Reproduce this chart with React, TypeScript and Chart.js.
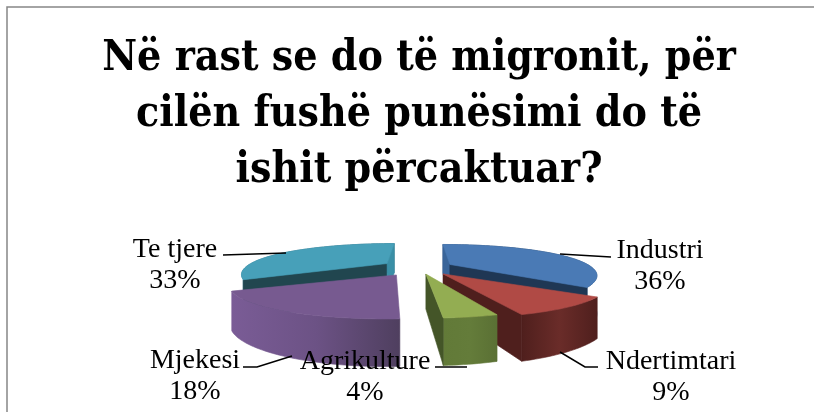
import React, { useEffect, useRef } from "react";
import { Chart, registerables } from "chart.js";

Chart.register(...registerables);

const titleLines = ["Në rast se do të migronit, për", "cilën fushë punësimi do të", "ishit përcaktuar?"];
const categories = ["Industri", "Ndertimtari", "Agrikulture", "Mjekesi", "Te tjere"];
const shares = [36, 9, 4, 18, 33];

const sliceColors = ["#4a7ab5", "#b04a45", "#93ad52", "#775a90", "#47a0b9"];
const sliceOffsets = [31, 35, 30, 38, 34];
const rimShades = [
  ["#2a4c76", "#1f3a5c", "#2f5480"],
  ["#4f1f1d", "#6a2c29", "#4f1f1d"],
  ["#627a38", "#647c3a", "#5a7034"],
  ["#7a5c96", "#6c5285", "#4f3f5f"],
  ["#3a8299", "#2f6b7e", "#2f6b7e"],
];
const wallColors = [
  ["#3a659a", "#1f3754"],
  ["#4f1f1d", "#4f1f1d"],
  ["#445528", "#445528"],
  ["#5f4775", "#5f4775"],
  ["#21464f", "#3a8fa6"],
];
const paintOrder = [4, 0, 1, 2, 3];

const labelPlacement = [
  { x: 660, y: 258, line: [[560, 254], [611, 257]] },
  { x: 671, y: 369, line: [[560, 352], [585, 367], [598, 367]] },
  { x: 365, y: 369, line: [[435, 367], [467, 367]] },
  { x: 195, y: 368, line: [[243, 367], [257, 367], [292, 356]] },
  { x: 175, y: 257, line: [[223, 255], [286, 253]] },
];

const SPREAD_X = 142;
const SPREAD_Y = 27.5;
const PERSP_X = 0.3;
const PERSP_Y = 0.375;
const OFFSET_UNIT = 125;
const OFFSET_TILT = 0.225;
const LABEL_FONT = "28px 'Liberation Serif'";

type Pt = [number, number];

const project = (cx: number, cy: number, off: number, mid: number, a: number | null, lowered = false): Pt => {
  const e = off / OFFSET_UNIT;
  const um = Math.cos(mid);
  const vm = Math.sin(mid);
  const ru = a === null ? 0 : Math.cos(a);
  const rv = a === null ? 0 : Math.sin(a);
  const U = e * um + ru;
  const V = e * vm + rv;
  const ky = 1 / (1 - PERSP_Y * rv);
  const drop = lowered ? 14 + 21 * ky : 0;
  return [
    cx + (SPREAD_X * U) / (1 - PERSP_X * V),
    cy + off * OFFSET_TILT * vm + SPREAD_Y * rv * ky + drop,
  ];
};

const fillPoly = (ctx: CanvasRenderingContext2D, pts: Pt[], fill: string | CanvasGradient) => {
  ctx.beginPath();
  pts.forEach((p, i) => (i ? ctx.lineTo(p[0], p[1]) : ctx.moveTo(p[0], p[1])));
  ctx.closePath();
  ctx.fillStyle = fill;
  ctx.strokeStyle = fill;
  ctx.lineWidth = 0.6;
  ctx.fill();
  ctx.stroke();
};

const wallFacesViewer = (apex: Pt, edge: Pt, inner: Pt) => {
  const dx = edge[0] - apex[0];
  const dy = edge[1] - apex[1];
  if (Math.abs(dx) < 1e-6) return true;
  const lineY = apex[1] + ((inner[0] - apex[0]) * dy) / dx;
  return inner[1] < lineY;
};

const extrudedPie = {
  id: "extrudedPie",
  beforeDraw(chart: Chart) {
    const ctx = chart.ctx;
    ctx.save();
    ctx.strokeStyle = "#868686";
    ctx.lineWidth = 1.5;
    ctx.beginPath();
    ctx.moveTo(7, 412);
    ctx.lineTo(7, 7);
    ctx.lineTo(814, 7);
    ctx.stroke();
    ctx.restore();
  },
  beforeDatasetDraw(chart: Chart) {
    const ctx = chart.ctx;
    const arcs = chart.getDatasetMeta(0).data as any[];
    ctx.save();
    paintOrder.forEach((i) => {
      const arc = arcs[i];
      const { x, y, startAngle, endAngle } = arc.getProps(["x", "y", "startAngle", "endAngle"], true);
      const off = arc.options.offset;
      const mid = (startAngle + endAngle) / 2;
      const steps = Math.max(6, Math.ceil((endAngle - startAngle) * 40));
      const angles = Array.from({ length: steps + 1 }, (_, n) => startAngle + ((endAngle - startAngle) * n) / steps);
      const apex = project(x, y, off, mid, null);
      const apexLow = project(x, y, off, mid, null, true);
      const top = angles.map((a) => project(x, y, off, mid, a));
      const bottom = angles.map((a) => project(x, y, off, mid, a, true));
      const inner = project(x, y, off, mid, mid);

      const xs = top.map((p) => p[0]);
      const grad = ctx.createLinearGradient(Math.min(...xs), 0, Math.max(...xs), 0);
      rimShades[i].forEach((c, n) => grad.addColorStop(n / 2, c));
      fillPoly(ctx, [...top, ...bottom.slice().reverse()], grad);

      [0, steps].forEach((n, w) => {
        if (wallFacesViewer(apex, top[n], inner)) {
          fillPoly(ctx, [apex, top[n], bottom[n], apexLow], wallColors[i][w]);
        }
      });
      fillPoly(ctx, [apex, ...top], sliceColors[i]);
    });
    ctx.restore();
    return false;
  },
  afterDatasetsDraw(chart: Chart) {
    const ctx = chart.ctx;
    ctx.save();
    ctx.strokeStyle = "#000";
    ctx.lineWidth = 1.5;
    ctx.fillStyle = "#000";
    ctx.font = LABEL_FONT;
    ctx.textAlign = "center";
    ctx.textBaseline = "alphabetic";
    labelPlacement.forEach((l, i) => {
      ctx.beginPath();
      l.line.forEach((p, n) => (n ? ctx.lineTo(p[0], p[1]) : ctx.moveTo(p[0], p[1])));
      ctx.stroke();
      ctx.fillText(String(chart.data.labels![i]), l.x, l.y);
      ctx.fillText(`${shares[i]}%`, l.x, l.y + 31);
    });
    ctx.restore();
  },
};

export default function App() {
  const ref = useRef<HTMLCanvasElement>(null);
  useEffect(() => {
    const chart = new Chart(ref.current!, {
      type: "pie",
      data: {
        labels: categories,
        datasets: [{ data: shares, backgroundColor: sliceColors, offset: sliceOffsets, borderWidth: 0 }],
      },
      options: {
        responsive: false,
        animation: false,
        events: [],
        layout: { padding: { left: 24, top: 21, bottom: 86, right: 0 } },
        plugins: {
          legend: { display: false },
          tooltip: { enabled: false },
          title: {
            display: true,
            text: titleLines,
            color: "#000",
            font: { family: "'DejaVu Serif Condensed'", weight: "bold", size: 42.4, lineHeight: 1.32 },
            padding: { top: 10, bottom: 10 },
          },
        },
      },
      plugins: [extrudedPie as any],
    } as any);
    return () => chart.destroy();
  }, []);
  return (
    <canvas
      ref={ref}
      width={814}
      height={412}
      style={{ position: "fixed", left: 0, top: 0, display: "block" }}
    />
  );
}
